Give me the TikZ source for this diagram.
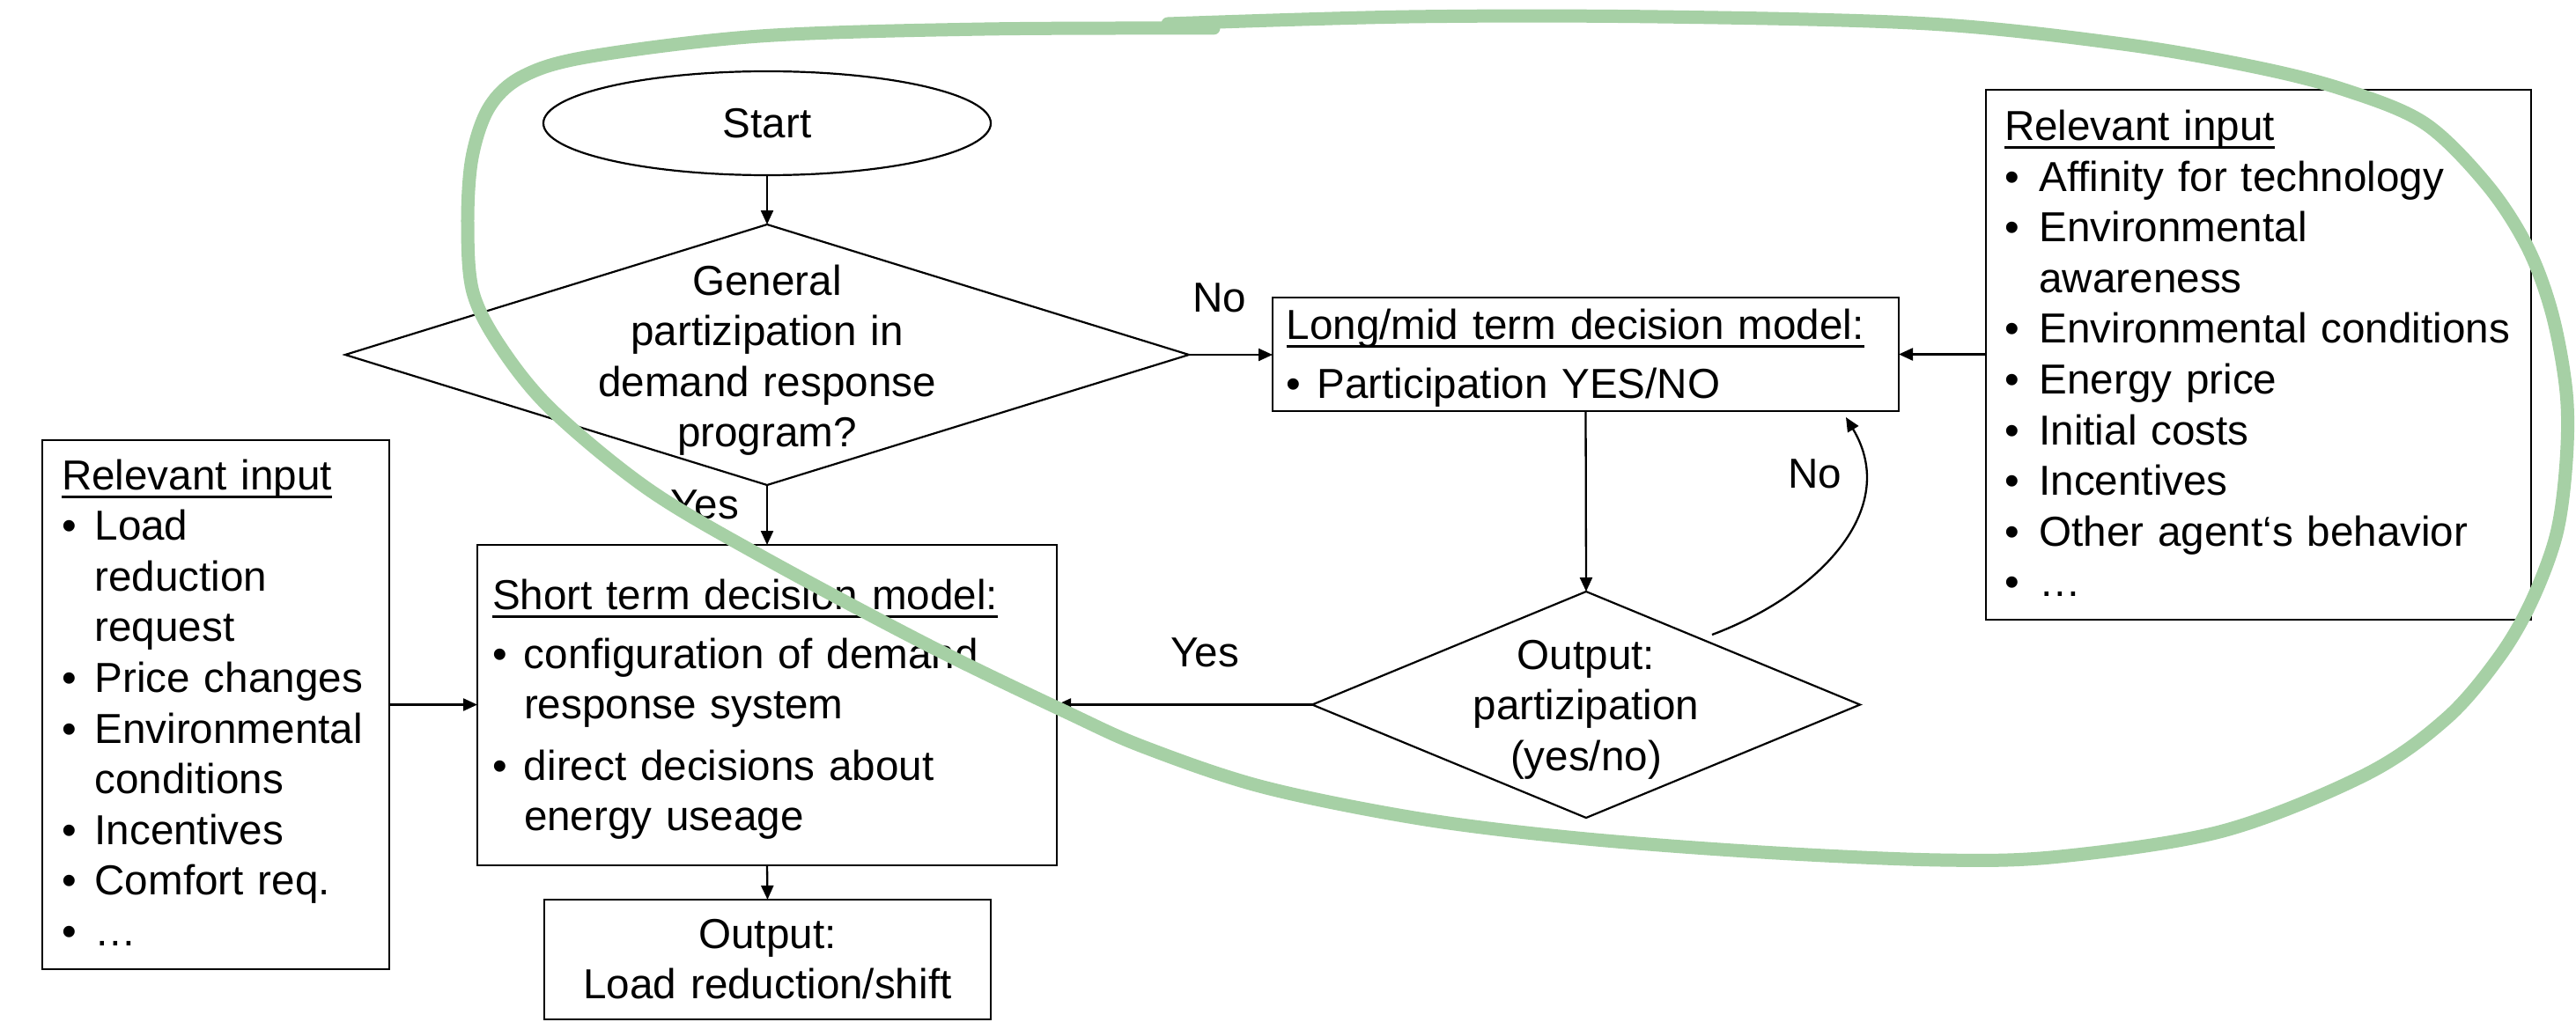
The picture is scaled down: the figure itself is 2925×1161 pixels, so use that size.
\documentclass[tikz,border=0pt]{standalone}
\usepackage{fontspec}
\setmainfont{Liberation Sans}
\usetikzlibrary{arrows.meta,shapes.geometric}
\definecolor{loopgreen}{RGB}{166,208,165}
\newcommand\ulx[1]{\setbox0\hbox{#1}\rlap{\rule[-10pt]{\wd0}{3pt}}\box0}
\newcommand\bul[1][36pt]{\makebox[#1][l]{•}}
\newcommand\cnt[1][36pt]{\hspace*{#1}}
\tikzset{
  every node/.style={font=\fontsize{47.6pt}{57.6pt}\selectfont, inner sep=0pt, outer sep=0pt},
  boxshape/.style={draw, rectangle, line width=2.2pt},
  decide/.style={draw, diamond, line width=2.2pt},
  txt/.style={anchor=base west, align=left, text width=#1},
  ctxt/.style={anchor=base, align=center, text width=#1},
  lbl/.style={anchor=base},
  conn/.style={line width=2.3pt, -{Triangle[length=16pt,width=14pt]}},
  greenloop/.style={draw=loopgreen, line width=15pt, line cap=round, line join=round},
}
\begin{document}
\begin{tikzpicture}[x=1pt,y=-1pt]
\useasboundingbox (0,0) rectangle (2925,1161);
\fill[white] (0,0) rectangle (2925,1161);

% shapes
\node[draw, ellipse, line width=2.2pt, minimum width=508pt, minimum height=118pt] (start) at (871,140) {};
\node[decide, minimum width=958pt, minimum height=296pt] (d1) at (871,403) {};
\node[boxshape, minimum width=711pt, minimum height=129pt] (longbox) at (1800.5,402.5) {};
\node[boxshape, minimum width=619pt, minimum height=602pt] (rightbox) at (2564.5,403) {};
\node[boxshape, minimum width=394pt, minimum height=601pt] (leftbox) at (245,800.5) {};
\node[boxshape, minimum width=658pt, minimum height=364pt] (shortbox) at (871,801) {};
\node[decide, minimum width=622pt, minimum height=257pt] (d2) at (1801,800.5) {};
\node[boxshape, minimum width=507pt, minimum height=136pt] (outbox) at (871.5,1090) {};

% texts
\node[lbl] (starttext) at (871,157) {Start};
\node[ctxt=560pt] (d1text) at (871,335) {General\\partizipation in\\demand response\\program?};
\node[ctxt=400pt] (d2text) at (1801,760) {Output:\\partizipation\\(yes/no)};
\node[ctxt=480pt] (outtext) at (871.5,1077) {Output:\\Load reduction/shift};
\node[txt=680pt] (longtext) at (1460.6,385) {\ulx{Long/mid term decision model:}\\[10pt]\bul[35pt]Participation YES/NO};
\node[txt=640pt] (shorttext) at (559,692) {\ulx{Short term decision model:}\\[9.5pt]\bul configuration of demand\\\cnt response system\\[12pt]\bul direct decisions about\\\cnt energy useage};
\node[txt=380pt] (lefttext) at (70,556) {\ulx{Relevant input}\\\bul[37.6pt]Load\\\cnt[37.6pt]reduction\\\cnt[37.6pt]request\\\bul[37.6pt]Price changes\\\bul[37.6pt]Environmental\\\cnt[37.6pt]conditions\\\bul[37.6pt]Incentives\\\bul[37.6pt]Comfort req.\\\bul[37.6pt]…};
\node[txt=600pt] (righttext) at (2276,159.5) {\ulx{Relevant input}\\\bul[39.5pt]Affinity for technology\\\bul[39.5pt]Environmental\\\cnt[39.5pt]awareness\\\bul[39.5pt]Environmental conditions\\\bul[39.5pt]Energy price\\\bul[39.5pt]Initial costs\\\bul[39.5pt]Incentives\\\bul[39.5pt]Other agent‘s behavior\\\bul[39.5pt]…};

% labels
\node[lbl] (nolabel1) at (1385,354) {No};
\node[lbl] (yeslabel1) at (800,589) {Yes};
\node[lbl] (yeslabel2) at (1368,757) {Yes};
\node[lbl] (nolabel2) at (2061,554) {No};

% connectors
\draw[conn] (start.south) -- (d1.north);
\draw[conn] (d1.east) -- (d1.east -| longbox.west);
\draw[conn] (rightbox.west |- longbox.east) -- (longbox.east);
\draw[conn] (d1.south) -- (shortbox.north);
\draw[conn] (longbox.south) -- (d2.north);
\draw[conn] (d2.west) -- (d2.west -| shortbox.east);
\draw[conn] (leftbox.east) -- (leftbox.east -| shortbox.west);
\draw[conn] (shortbox.south) -- (outbox.north);
\coordinate (cs) at (1944,721);
\coordinate (ce) at (2096,474);
\draw[conn] (cs) .. controls (2064,676) and (2159,579) .. (ce);

% green loop
\draw[greenloop] plot[smooth, tension=0.55] coordinates {
(1326,27) (1600,19) (1882,19) (2190,27) (2410,50) (2560,76) (2662,102) (2753,140)
(2824,210) (2870,281) (2898,357) (2914,446) (2914,523) (2903,606) (2875,682)
(2838,746) (2778,816) (2686,880) (2524,944) (2339,973) (2204,977) (2000,968)
(1791,952) (1612,930) (1434,894) (1300,849) (1213,810) (1054,733) (863,631)
(735,555) (627,466) (569,395) (537,332) (531,255) (536,179) (556,121) (595,86)
(671,64) (863,41) (1118,33) (1378,32)};
\end{tikzpicture}
\end{document}
